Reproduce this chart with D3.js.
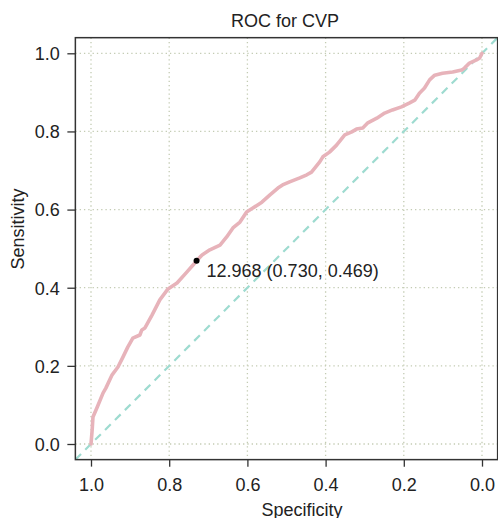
<!DOCTYPE html>
<html><head><meta charset="utf-8">
<script src="https://cdn.jsdelivr.net/npm/d3@7"></script>
<style>
html,body{margin:0;padding:0;background:#fff;}
svg{display:block;font-family:"Liberation Sans",Arial,Helvetica,sans-serif;}
</style></head>
<body>
<svg id="chart" width="498" height="518"></svg>
<script>
// ROC curve points (specificity, sensitivity)
const specificity = [1.000,0.997,0.995,0.985,0.969,0.962,0.946,0.931,0.918,0.906,0.893,0.875,0.870,0.862,0.844,0.824,0.803,0.780,0.755,0.739,0.730,0.716,0.696,0.670,0.653,0.637,0.619,0.602,0.586,0.563,0.543,0.522,0.510,0.492,0.466,0.448,0.436,0.415,0.407,0.390,0.372,0.351,0.333,0.321,0.305,0.292,0.269,0.249,0.229,0.206,0.185,0.172,0.160,0.147,0.134,0.121,0.101,0.075,0.052,0.045,0.032,0.014,0.006,0.000];
const sensitivity = [0.000,0.036,0.069,0.092,0.131,0.143,0.177,0.197,0.223,0.248,0.271,0.279,0.292,0.297,0.330,0.369,0.397,0.412,0.440,0.458,0.469,0.484,0.497,0.509,0.530,0.553,0.568,0.594,0.604,0.619,0.637,0.655,0.663,0.671,0.681,0.689,0.696,0.722,0.735,0.747,0.765,0.791,0.799,0.806,0.809,0.822,0.834,0.847,0.855,0.863,0.873,0.880,0.898,0.911,0.932,0.944,0.949,0.952,0.957,0.962,0.975,0.983,0.988,1.000];
const xTicks = [1.0,0.8,0.6,0.4,0.2,0.0];
const yTicks = [0.0,0.2,0.4,0.6,0.8,1.0];
const bestThreshold = "12.968";
const bestSpec = 0.730, bestSens = 0.469;
const title = "ROC for CVP";
const xTitle = "Specificity", yTitle = "Sensitivity";

const svg = d3.select("#chart");
const x = d3.scaleLinear().domain([1,0]).range([91,482]);
const y = d3.scaleLinear().domain([0,1]).range([444,53.3]);
const x0 = x(1.04), x1 = x(-0.04), y0 = y(-0.04), y1 = y(1.04);
const fs = 18;

// grid
const grid = svg.append("g").attr("stroke","#c3cbb3").attr("stroke-width",1.3).attr("stroke-dasharray","1.3,3");
grid.selectAll("line.v").data(xTicks).join("line").attr("class","v")
  .attr("x1",d=>x(d)).attr("x2",d=>x(d)).attr("y1",y1).attr("y2",y0);
grid.selectAll("line.h").data(yTicks).join("line").attr("class","h")
  .attr("y1",d=>y(d)).attr("y2",d=>y(d)).attr("x1",x0).attr("x2",x1);

// clip
svg.append("clipPath").attr("id","clip").append("rect")
  .attr("x",x0).attr("y",y1).attr("width",x1-x0).attr("height",y0-y1);

// diagonal
svg.append("line").attr("clip-path","url(#clip)")
  .attr("x1",x(1.04)).attr("y1",y(-0.04)).attr("x2",x(-0.04)).attr("y2",y(1.04))
  .attr("stroke","#9edbd0").attr("stroke-width",2.2).attr("stroke-dasharray","8,6");

// ROC curve
const pts = specificity.map((s,i)=>[s,sensitivity[i]]);
svg.append("path").datum(pts).attr("clip-path","url(#clip)")
  .attr("fill","none").attr("stroke","#e7b3ba").attr("stroke-width",3.6)
  .attr("stroke-linejoin","round").attr("stroke-linecap","round")
  .attr("d",d3.line().x(d=>x(d[0])).y(d=>y(d[1])));

// best point
svg.append("circle").attr("cx",x(bestSpec)).attr("cy",y(bestSens)).attr("r",3).attr("fill","#000");
svg.append("text").attr("x",x(bestSpec)+10).attr("y",y(bestSens)+16)
  .attr("font-size",fs).attr("fill","#222")
  .text(`${bestThreshold} (${bestSpec.toFixed(3)}, ${bestSens.toFixed(3)})`);

// frame
svg.append("rect").attr("x",x0).attr("y",y1).attr("width",x1-x0).attr("height",y0-y1)
  .attr("fill","none").attr("stroke","#333").attr("stroke-width",1.5);

// axes
const ax = svg.append("g").attr("transform",`translate(0,${y0})`)
  .call(d3.axisBottom(x).tickValues(xTicks).tickFormat(d3.format(".1f")).tickSize(7).tickSizeOuter(0));
ax.select(".domain").remove();
ax.selectAll(".tick line").attr("stroke","#333").attr("stroke-width",1.3);
ax.selectAll(".tick text").attr("font-size",fs).attr("fill","#222").attr("font-family",null)
  .attr("y",31.5).attr("dy",null);

const ay = svg.append("g").attr("transform",`translate(${x0},0)`)
  .call(d3.axisLeft(y).tickValues(yTicks).tickFormat(d3.format(".1f")).tickSize(8).tickSizeOuter(0));
ay.select(".domain").remove();
ay.selectAll(".tick line").attr("stroke","#333").attr("stroke-width",1.3);
ay.selectAll(".tick text").attr("font-size",fs).attr("fill","#222").attr("font-family",null)
  .attr("x",-15.5).attr("dy","0.35em");

// titles
svg.append("text").attr("x",285).attr("y",27).attr("text-anchor","middle")
  .attr("font-size",fs).attr("fill","#222").text(title);
svg.append("text").attr("x",302).attr("y",516).attr("text-anchor","middle")
  .attr("font-size",fs).attr("fill","#222").text(xTitle);
svg.append("text").attr("transform","translate(24,229) rotate(-90)").attr("text-anchor","middle")
  .attr("font-size",fs).attr("fill","#222").text(yTitle);
</script>
</body></html>
